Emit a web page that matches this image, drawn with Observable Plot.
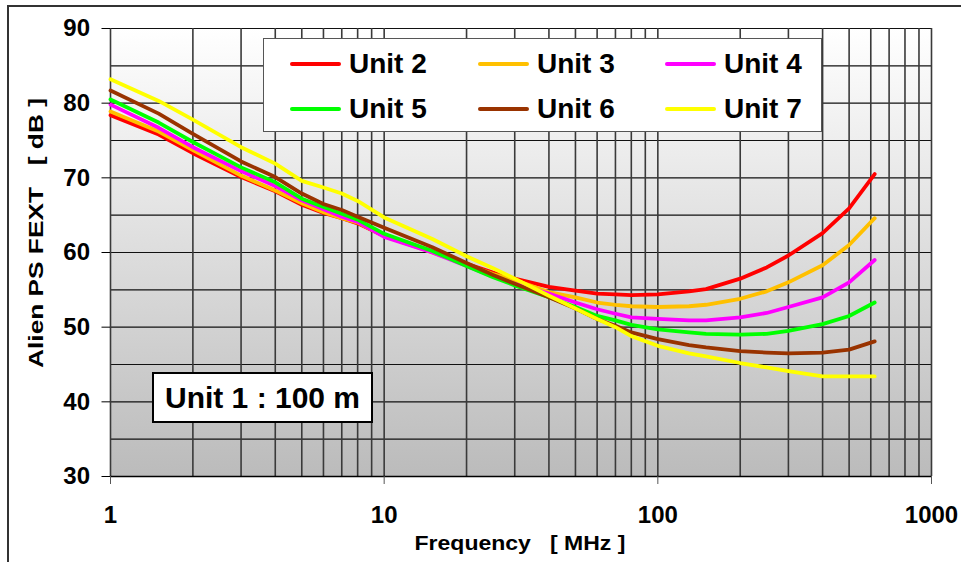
<!DOCTYPE html>
<html>
<head>
<meta charset="utf-8">
<script src="https://cdn.jsdelivr.net/npm/d3@7"></script>
<script src="https://cdn.jsdelivr.net/npm/@observablehq/plot@0.6"></script>
<style>
  html, body { margin: 0; padding: 0; background: #fff; }
  #wrap { position: relative; width: 961px; height: 562px; overflow: hidden; font-family: "Liberation Sans", Arial, sans-serif; }
  #frame { position: absolute; left: 7px; top: 5px; width: 1200px; height: 1000px; border-left: 2px solid #333; border-top: 2px solid #333; pointer-events: none; }
  #chart { position: absolute; left: 0; top: 0; }
  .lab { position: absolute; font-weight: bold; color: #000; white-space: pre; line-height: 1; }
  #legend { position: absolute; left: 263px; top: 38px; width: 559px; height: 94px; background: #fff; border: 1.5px solid #555; box-sizing: border-box; }
  .item { position: absolute; display: flex; align-items: center; font-weight: bold; font-size: 28px; line-height: 1; }
  .sw { width: 51px; height: 4.5px; border-radius: 2.25px; margin-right: 8px; }
  #note { position: absolute; left: 152px; top: 372px; width: 221px; height: 51px; background: #fff; border: 2px solid #000; box-sizing: border-box; font-weight: bold; font-size: 30px; display: flex; align-items: center; justify-content: center; line-height: 1; }
</style>
</head>
<body>
<div id="wrap">
  <div id="frame"></div>
</div>
<script>
// ---- data ----
const freqMHz = [1, 1.5, 2, 3, 4, 5, 6, 7, 8, 10, 15, 20, 25, 30, 40, 50, 60, 70, 80, 100, 130, 150, 200, 250, 300, 400, 500, 620];
const unit2 = [78.4, 75.8, 73.3, 70.1, 68.2, 66.4, 65.3, 64.6, 63.9, 62.2, 60.1, 58.5, 57.3, 56.5, 55.4, 54.9, 54.5, 54.4, 54.3, 54.4, 54.8, 55.1, 56.5, 58.0, 59.6, 62.6, 65.9, 70.5];
const unit3 = [78.9, 76.2, 73.7, 70.3, 68.3, 66.6, 65.4, 64.6, 64.0, 62.2, 60.0, 58.4, 57.1, 56.3, 54.7, 54.0, 53.3, 53.0, 52.8, 52.7, 52.8, 53.0, 53.8, 54.8, 56.0, 58.3, 61.0, 64.6];
const unit4 = [79.8, 76.7, 74.1, 70.9, 68.9, 67.0, 65.8, 64.8, 64.1, 62.1, 60.0, 58.2, 56.8, 55.8, 54.5, 53.3, 52.4, 51.8, 51.3, 51.1, 50.9, 50.9, 51.3, 51.9, 52.7, 54.0, 56.0, 59.0];
const unit5 = [80.5, 77.4, 74.8, 71.4, 69.4, 67.2, 66.1, 65.2, 64.4, 62.5, 60.2, 58.2, 56.7, 55.6, 54.0, 52.7, 51.5, 50.9, 50.3, 49.7, 49.3, 49.1, 49.0, 49.1, 49.5, 50.4, 51.5, 53.3];
const unit6 = [81.7, 78.6, 75.9, 72.2, 70.1, 67.9, 66.5, 65.7, 64.8, 63.3, 60.7, 58.6, 57.0, 55.8, 54.0, 52.5, 51.1, 50.2, 49.3, 48.4, 47.6, 47.3, 46.8, 46.6, 46.5, 46.6, 47.0, 48.1];
const unit7 = [83.2, 80.3, 77.8, 74.1, 71.9, 69.6, 68.7, 67.9, 66.9, 64.7, 61.8, 59.5, 57.9, 56.5, 54.2, 52.5, 51.1, 50.0, 48.8, 47.5, 46.5, 46.1, 45.2, 44.6, 44.1, 43.4, 43.4, 43.4];
const seriesNames = ["Unit 2", "Unit 3", "Unit 4", "Unit 5", "Unit 6", "Unit 7"];
const seriesValues = [unit2, unit3, unit4, unit5, unit6, unit7];
const seriesColors = ["#ff0000", "#ffc000", "#ff00ff", "#00ff00", "#993300", "#ffff00"];
const yTicks = [30, 40, 50, 60, 70, 80, 90];
const yGrid = [30, 35, 40, 45, 50, 55, 60, 65, 70, 75, 80, 85, 90];
const xTicks = [1, 10, 100, 1000];
const xTickLabels = ["1", "10", "100", "1000"];
const xLabel = "Frequency   [ MHz ]";
const yLabel = "Alien PS FEXT   [ dB ]";
const noteText = "Unit 1 : 100 m";

// ---- build table ----
const rows = [];
seriesNames.forEach((name, i) => {
  freqMHz.forEach((f, j) => rows.push({unit: name, f, v: seriesValues[i][j]}));
});
const xGrid = d3.scaleLog().domain([1, 1000]).ticks();

const font = "Liberation Sans, Arial, sans-serif";
const chart = Plot.plot({
  width: 961,
  height: 562,
  marginLeft: 110,
  marginRight: 30,
  marginTop: 28,
  marginBottom: 86,
  style: {fontFamily: font, background: "transparent", overflow: "visible"},
  x: {type: "log", domain: [1, 1000]},
  y: {domain: [30, 90]},
  color: {domain: seriesNames, range: seriesColors},
  marks: [
    Plot.frame({fill: "url(#bgGrad)", stroke: "none"}),
    Plot.ruleY(yGrid, {stroke: "#111", strokeWidth: 1.2}),
    Plot.ruleX(xGrid, {stroke: "#3a3a3a", strokeWidth: 1.6}),
    ...seriesNames.map((name) =>
      Plot.line(rows.filter(d => d.unit === name), {x: "f", y: "v", stroke: "unit", strokeWidth: 3.8, strokeLinejoin: "round", strokeLinecap: "round"})
    ),
    Plot.ruleY([30], {stroke: "#000", strokeWidth: 1.5}),
    Plot.axisY({ticks: yTicks, tickSize: 8.5, tickPadding: 12, fontSize: 24, fontWeight: "bold", label: null, stroke: "#000"}),
    Plot.axisX({ticks: xTicks, tickFormat: (d) => xTickLabels[xTicks.indexOf(d)], tickSize: 8, tickPadding: 21, fontSize: 24, fontWeight: "bold", label: null, stroke: "#555"})
  ]
});
chart.id = "chart";
const ns = "http://www.w3.org/2000/svg";
const defs = document.createElementNS(ns, "defs");
defs.innerHTML = '<linearGradient id="bgGrad" x1="0" y1="0" x2="0" y2="1"><stop offset="0" stop-color="#ffffff"/><stop offset="1" stop-color="#bbbbbb"/></linearGradient>';
chart.insertBefore(defs, chart.firstChild);

const wrap = document.getElementById("wrap");
wrap.appendChild(chart);

// axis labels
const xl = document.createElement("div");
xl.className = "lab";
xl.textContent = xLabel;
xl.style.cssText += "font-size:20px;left:520px;top:543px;transform:translate(-50%,-50%) scaleX(1.15);";
wrap.appendChild(xl);
const yl = document.createElement("div");
yl.className = "lab";
yl.textContent = yLabel;
yl.style.cssText += "font-size:21px;left:35px;top:233px;transform:translate(-50%,-50%) rotate(-90deg) scaleX(1.25);";
wrap.appendChild(yl);

// legend
const legend = document.createElement("div");
legend.id = "legend";
const colX = [26, 214, 401];
const rowY = [11, 56];
seriesNames.forEach((name, i) => {
  const it = document.createElement("div");
  it.className = "item";
  it.style.left = colX[i % 3] + "px";
  it.style.top = rowY[Math.floor(i / 3)] + "px";
  it.innerHTML = `<span class="sw" style="background:${seriesColors[i]}"></span><span>${name}</span>`;
  legend.appendChild(it);
});
wrap.appendChild(legend);

// note box
const note = document.createElement("div");
note.id = "note";
note.textContent = noteText;
wrap.appendChild(note);
</script>
</body>
</html>
